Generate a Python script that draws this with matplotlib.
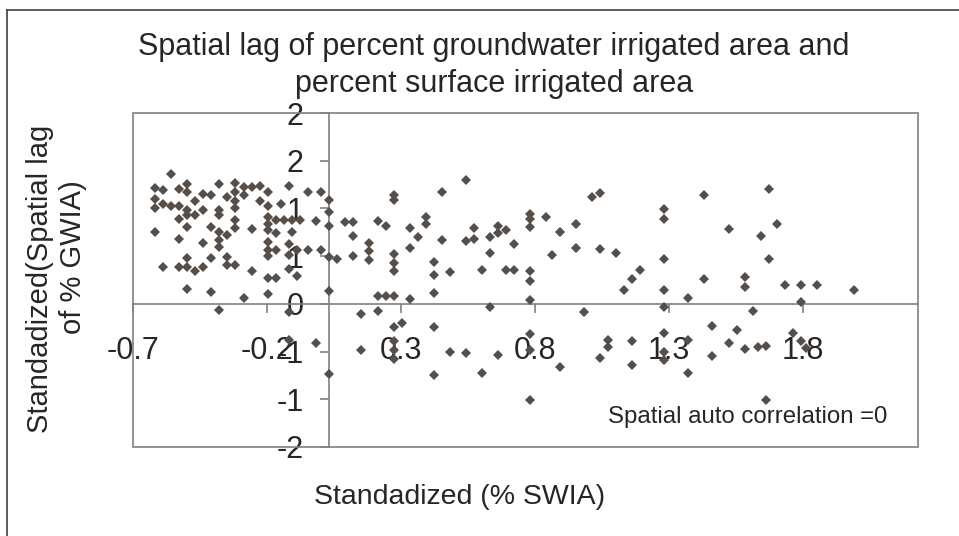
import math

import matplotlib.pyplot as plt
import numpy as np
from matplotlib.lines import Line2D
from matplotlib.patches import Rectangle
from matplotlib.ticker import FuncFormatter

# Arial-like look
plt.rcParams['font.family'] = ['Liberation Sans', 'DejaVu Sans']
plt.rcParams['text.color'] = '#262626'

# standardized % SWIA (x) and spatial lag of % GWIA (y)
swia = [
    -0.59, -0.65, -0.62, -0.56, -0.53, -0.53, -0.65, -0.65, -0.62, -0.59,
    -0.56, -0.53, -0.56, -0.53, -0.50, -0.47, -0.44, -0.50, -0.47, -0.41,
    -0.38, -0.41, -0.41, -0.53, -0.65, -0.56, -0.47, -0.44, -0.41, -0.41,
    -0.41, -0.38, -0.62, -0.56, -0.53, -0.53, -0.50, -0.47, -0.44, -0.38,
    -0.38, -0.53, -0.44, -0.41, -0.35, -0.35, -0.32, -0.29, -0.26, -0.23,
    -0.35, -0.35, -0.32, -0.26, -0.23, -0.15, -0.08, -0.03, -0.18, 0.00,
    0.00, 0.00, -0.35, -0.35, -0.29, -0.23, -0.23, -0.23, -0.20, -0.20,
    -0.17, -0.14, -0.14, -0.11, -0.05, -0.23, -0.23, -0.20, -0.23, -0.15,
    -0.15, -0.12, -0.08, -0.03, 0.00, -0.35, -0.29, -0.23, -0.20, -0.15,
    -0.12, -0.32, -0.23, 0.00, 0.03,
    0.06, 0.09, 0.09, 0.09, 0.18, 0.21, 0.15, 0.15, 0.15, 0.24,
    0.24, 0.24, 0.24, 0.24, 0.18, 0.21, 0.24, 0.30, 0.30, 0.33,
    0.36, 0.36, 0.30, 0.39, 0.39, 0.39, 0.42, 0.42, 0.45, 0.51,
    0.51, 0.54, 0.54, 0.57, 0.60, 0.60, 0.63, 0.63, 0.66, 0.66,
    0.69, 0.69, 0.75, 0.75, 0.75, 0.75, 0.75, 0.75, 0.81, 0.83,
    0.86, 0.92, 0.92, 0.98, 1.01, 1.01, 1.07,
    1.10, 1.13, 1.16, 1.25, 1.25, 1.25, 1.25, 1.25, 1.34, 1.40,
    1.40, 1.49, 1.55, 1.55, 1.58, 1.61, 1.64, 1.67, 1.64, 1.70,
    1.76, 1.82, 1.76, 1.96,
    -0.15, -0.15, -0.05, 0.00, 0.12, 0.18, 0.12, 0.24, 0.27, 0.24,
    0.24, 0.24, 0.39, 0.39, 0.45, 0.51, 0.57, 0.60, 0.63, 0.75,
    0.75, 0.75, 0.86, 0.95, 1.01, 1.04, 1.04, 1.13, 1.13, 1.25,
    1.25, 1.25, 1.34, 1.34, 1.43, 1.43, 1.49, 1.52, 1.55, 1.60,
    1.63, 1.63, 1.73, 1.76, 1.78,
]
lag = [
    1.36, 1.21, 1.19, 1.20, 1.26, 1.17, 1.10, 1.00, 1.05, 1.03,
    1.03, 0.98, 0.89, 0.93, 1.08, 1.15, 1.14, 0.93, 0.98, 1.26,
    1.12, 0.98, 0.93, 0.81, 0.75, 0.68, 0.64, 0.81, 0.75, 0.67,
    0.60, 0.72, 0.39, 0.39, 0.48, 0.39, 0.34, 0.39, 0.48, 0.49,
    0.41, 0.16, 0.12, -0.06, 1.27, 1.17, 1.22, 1.22, 1.23, 1.17,
    1.08, 1.00, 1.14, 1.08, 1.03, 1.24, 1.17, 1.17, 1.05, 1.09,
    0.96, 0.82, 0.88, 0.79, 0.78, 0.91, 0.84, 0.77, 0.88, 0.74,
    0.88, 0.88, 0.75, 0.88, 0.87, 0.65, 0.56, 0.56, 0.50, 0.63,
    0.51, 0.56, 0.56, 0.56, 0.49, 0.41, 0.34, 0.27, 0.27, 0.37,
    0.29, 0.06, 0.10, 0.13, 0.47,
    0.86, 0.86, 0.71, 0.50, 0.87, 0.82, 0.64, 0.55, 0.46, 1.14,
    1.09, 0.52, 0.43, 0.34, 0.08, 0.08, 0.08, 0.80, 0.59, 0.70,
    0.91, 0.84, 0.05, 0.44, 0.30, 0.11, 1.17, 0.67, 0.33, 1.30,
    0.66, 0.68, 0.80, 0.35, 0.70, 0.53, 0.82, 0.74, 0.77, 0.35,
    0.35, 0.63, 0.94, 0.89, 0.81, 0.34, 0.24, 0.04, 0.91, 0.51,
    0.75, 0.84, 0.59, 1.12, 1.16, 0.57, 0.53,
    0.15, 0.26, 0.36, 0.99, 0.89, 0.47, 0.15, -0.03, 0.06, 1.14,
    0.26, 0.78, 0.28, 0.18, -0.08, 0.71, 1.20, 0.84, 0.47, 0.20,
    0.20, 0.20, 0.02, 0.15,
    -0.09, -0.38, -0.41, -0.74, -0.11, -0.08, -0.48, -0.24, -0.20, -0.39,
    -0.48, -0.58, -0.24, -0.75, -0.50, -0.51, -0.72, -0.03, -0.54, -0.32,
    -0.48, -1.01, -0.66, -0.09, -0.57, -0.38, -0.45, -0.39, -0.64, -0.31,
    -0.50, -0.59, -0.38, -0.72, -0.23, -0.55, -0.41, -0.27, -0.47, -0.45,
    -0.44, -1.01, -0.31, -0.39, -0.46,
]

x_start, x_end = -0.7325, 2.197
y_start, y_end = -1.5, 2.0

W, H = 959, 536
fig = plt.figure(figsize=(W / 100, H / 100), dpi=100)
ax = fig.add_axes([133 / W, 1 - 447 / H, (918 - 133) / W, (447 - 113) / H])

ax.plot(swia, lag, 'D', ms=5.2, mew=0, color='#564e49', zorder=3)
ax.set_xlim(x_start, x_end)
ax.set_ylim(y_start, y_end)

# axes cross at the origin, plot area has its own grey frame
ax.spines['left'].set_position(('data', 0))
ax.spines['bottom'].set_position(('data', 0))
ax.spines['top'].set_visible(False)
ax.spines['right'].set_visible(False)
for s in ['left', 'bottom']:
    ax.spines[s].set_color('#808080')
    ax.spines[s].set_linewidth(1.2)
ax.add_patch(Rectangle((0, 0), 1, 1, transform=ax.transAxes, fill=False,
                       ec='#808080', lw=1.2, clip_on=False, zorder=2))

ax.set_xticks(x_start + 0.5 * np.arange(6))
ax.set_yticks(np.arange(y_start, y_end + 0.01, 0.5))
ax.xaxis.set_major_formatter(FuncFormatter(lambda v, p: f'{v:.1f}'))
ax.yaxis.set_major_formatter(FuncFormatter(
    lambda v, p: str(int(math.copysign(math.floor(abs(v) + 0.5), v)))))
ax.tick_params(direction='out', length=6.5, width=1.2, color='#808080',
               labelsize=22, labelcolor='#262626')
ax.tick_params(axis='x', pad=17)
ax.tick_params(axis='y', pad=12)

# title, axis titles and note
fig.text(494 / W, 1 - 55 / H, 'Spatial lag of percent groundwater irrigated area and',
         ha='center', va='baseline', fontsize=22)
fig.text(494 / W, 1 - 92 / H, 'percent surface irrigated area',
         ha='center', va='baseline', fontsize=22)
fig.text(460 / W, 1 - 504 / H, 'Standadized (% SWIA)',
         ha='center', va='baseline', fontsize=20.5)
fig.text(40 / W, 1 - 279 / H, 'Standadized(Spatial lag', rotation=90,
         ha='center', va='center', fontsize=21)
fig.text(73 / W, 1 - 257 / H, 'of % GWIA)', rotation=90,
         ha='center', va='center', fontsize=21)
fig.text(608 / W, 1 - 423 / H, 'Spatial auto correlation =0',
         ha='left', va='baseline', fontsize=17.3)

# chart area border
fig.add_artist(Line2D([7 / W, 1], [1 - 10 / H, 1 - 10 / H], color='#404040', lw=1.2))
fig.add_artist(Line2D([7 / W, 7 / W], [0, 1 - 10 / H], color='#404040', lw=1.2))

fig.savefig('out.png', dpi=100)
